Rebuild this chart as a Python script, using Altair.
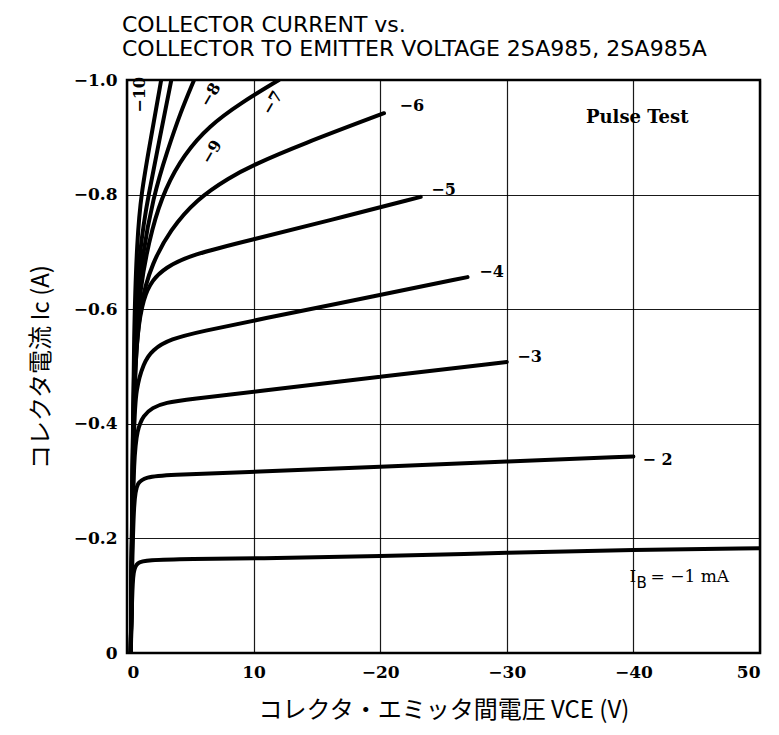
import json
import altair as alt
import pandas as pd

vce_ib1 = [0.3, 0.4, 0.5, 0.8, 1.5, 5, 10, 20, 30, 40, 50]
ic_ib1 = [0.0, 0.10, 0.145, 0.158, 0.162, 0.164, 0.165, 0.169, 0.175, 0.180, 0.183]

vce_ib2 = [0.3, 0.4, 0.55, 0.8, 1.5, 3, 10, 20, 30, 40]
ic_ib2 = [0.0, 0.15, 0.27, 0.298, 0.307, 0.311, 0.316, 0.325, 0.334, 0.343]

vce_ib3 = [0.3, 0.4, 0.55, 0.8, 1.3, 2, 3, 5, 10, 20, 30]
ic_ib3 = [0.0, 0.20, 0.34, 0.39, 0.415, 0.428, 0.437, 0.443, 0.456, 0.482, 0.508]

vce_ib4 = [0.3, 0.4, 0.55, 0.7, 1.3, 2, 3.4, 6, 10, 20, 26.9]
ic_ib4 = [0.0, 0.20, 0.40, 0.46, 0.506, 0.529, 0.548, 0.562, 0.580, 0.625, 0.656]

vce_ib5 = [0.3, 0.4, 0.55, 0.8, 1.3, 2, 3, 5, 10, 16, 23.2]
ic_ib5 = [0.0, 0.22, 0.45, 0.56, 0.62, 0.651, 0.672, 0.695, 0.722, 0.755, 0.796]

vce_ib6 = [0.3, 0.4, 0.55, 1, 2, 3.4, 5.5, 8.1, 10, 13.7, 20.3]
ic_ib6 = [0.0, 0.22, 0.48, 0.61, 0.681, 0.738, 0.792, 0.830, 0.852, 0.887, 0.942]

vce_ib7 = [0.3, 0.4, 0.55, 1, 2, 3, 4.5, 6.5, 9, 12]
ic_ib7 = [0.0, 0.23, 0.50, 0.64, 0.745, 0.81, 0.87, 0.92, 0.96, 1.0]

vce_ib8 = [0.3, 0.4, 0.55, 1, 2.1, 3.2, 4.2, 5.3]
ic_ib8 = [0.0, 0.23, 0.52, 0.67, 0.80, 0.877, 0.942, 1.0]

vce_ib9 = [0.3, 0.4, 0.55, 1, 1.7, 2.6, 3.5]
ic_ib9 = [0.0, 0.24, 0.55, 0.71, 0.80, 0.90, 1.0]

vce_ib10 = [0.3, 0.4, 0.55, 0.8, 1.1, 1.9, 2.7]
ic_ib10 = [0.0, 0.25, 0.58, 0.72, 0.80, 0.90, 1.0]

curve_names = ["-1", "-2", "-3", "-4", "-5", "-6", "-7", "-8", "-9", "-10"]
curve_v = [vce_ib1, vce_ib2, vce_ib3, vce_ib4, vce_ib5, vce_ib6, vce_ib7, vce_ib8, vce_ib9, vce_ib10]
curve_i = [ic_ib1, ic_ib2, ic_ib3, ic_ib4, ic_ib5, ic_ib6, ic_ib7, ic_ib8, ic_ib9, ic_ib10]

# Curve labels (anchor position in data units, text, rotation)
label_text = ["−10", "−9", "−8", "−7", "−6", "−5", "−4", "−3", "− 2"]
label_v = [1.0, 6.7, 6.6, 11.5, 22.5, 25.0, 28.8, 31.8, 41.9]
label_i = [0.974, 0.874, 0.974, 0.96, 0.955, 0.808, 0.665, 0.517, 0.337]
label_angle = [270, 300, 300, 300, 0, 0, 0, 0, 0]

x_tick_values = [0, 10, 20, 30, 40, 50]
x_tick_labels = ["0", "10", "−20", "−30", "−40", "50"]
y_tick_values = [0, 0.2, 0.4, 0.6, 0.8, 1.0]
y_tick_labels = ["0", "−0.2", "−0.4", "−0.6", "−0.8", "−1.0"]

rows = []
for name, vs, is_ in zip(curve_names, curve_v, curve_i):
    for k, (v, i) in enumerate(zip(vs, is_)):
        rows.append({"curve": name, "idx": k, "V": v, "I": i})
df = pd.DataFrame(rows)

lab_df = pd.DataFrame({"V": label_v, "I": label_i, "text": label_text, "angle": label_angle})

x_scale = alt.Scale(domain=[0, 50], nice=False, zero=False)
y_scale = alt.Scale(domain=[0, 1.0], nice=False, zero=False)

x_axis = alt.Axis(
    values=x_tick_values,
    labelExpr=json.dumps(x_tick_labels, ensure_ascii=False) + "[round(datum.value/10)]",
    grid=True, ticks=False, domain=False,
    labelFont="DejaVu Serif", labelFontWeight="bold", labelFontSize=17, labelColor="black",
    labelPadding=11,
    title="コレクタ・エミッタ間電圧 VCE (V)",
    titleFont="Noto Sans CJK JP", titleFontSize=24, titleFontWeight="normal", titleColor="black",
    titlePadding=18,
)
y_axis = alt.Axis(
    values=y_tick_values,
    labelExpr=json.dumps(y_tick_labels, ensure_ascii=False) + "[round(datum.value*5)]",
    grid=True, ticks=False, domain=False,
    labelFont="DejaVu Serif", labelFontWeight="bold", labelFontSize=17, labelColor="black",
    labelPadding=10,
    title="コレクタ電流 Ic (A)",
    titleFont="Noto Sans CJK JP", titleFontSize=24, titleFontWeight="normal", titleColor="black",
    titlePadding=20,
)

lines = alt.Chart(df).mark_line(
    color="black", strokeWidth=4, interpolate="basis", clip=True, strokeCap="round"
).encode(
    x=alt.X("V:Q", scale=x_scale, axis=x_axis),
    y=alt.Y("I:Q", scale=y_scale, axis=y_axis),
    detail="curve:N",
    order="idx:Q",
)

labels = alt.Chart(lab_df).mark_text(
    font="DejaVu Serif", fontSize=16, fontWeight="bold", color="black", align="center", baseline="middle"
).encode(
    x=alt.X("V:Q", scale=x_scale),
    y=alt.Y("I:Q", scale=y_scale),
    text="text:N",
    angle=alt.Angle("angle:Q", scale=None),
)

pulse_df = pd.DataFrame({"V": [40.3], "I": [0.934], "text": ["Pulse Test"]})
pulse = alt.Chart(pulse_df).mark_text(
    font="DejaVu Serif", fontSize=18, fontWeight="bold", color="black", align="center", baseline="middle"
).encode(x=alt.X("V:Q", scale=x_scale), y=alt.Y("I:Q", scale=y_scale), text="text:N")

ib_df = pd.DataFrame({"V": [39.7], "I": [0.133]})
ib_i = alt.Chart(ib_df).mark_text(
    font="DejaVu Serif", fontSize=17, color="black", align="left", baseline="middle", text="I"
).encode(x=alt.X("V:Q", scale=x_scale), y=alt.Y("I:Q", scale=y_scale))
ib_b = alt.Chart(ib_df).mark_text(
    font="DejaVu Sans", fontSize=15, color="black", align="left", baseline="middle", text="B", dx=7, dy=6
).encode(x=alt.X("V:Q", scale=x_scale), y=alt.Y("I:Q", scale=y_scale))
ib_rest = alt.Chart(ib_df).mark_text(
    font="DejaVu Serif", fontSize=17, color="black", align="left", baseline="middle", text="= −1 mA", dx=21
).encode(x=alt.X("V:Q", scale=x_scale), y=alt.Y("I:Q", scale=y_scale))

chart = alt.layer(lines, labels, pulse, ib_i, ib_b, ib_rest).properties(
    width=633,
    height=573,
    autosize=alt.AutoSizeParams(type="none"),
    padding={"left": 119, "top": 72, "right": 11, "bottom": 74},
    title=alt.TitleParams(
        text=["COLLECTOR CURRENT vs.", "COLLECTOR TO EMITTER VOLTAGE 2SA985, 2SA985A"],
        anchor="start", frame="group", dx=-5, offset=10, fontSize=22, lineHeight=24,
        font="DejaVu Sans", fontWeight="normal", color="black",
    ),
).configure_view(
    stroke="black", strokeWidth=2.5
).configure_axis(
    gridColor="black", gridWidth=1.2, gridOpacity=0.9
)

chart.save("out.html", embed_options={"renderer": "svg", "actions": False})
